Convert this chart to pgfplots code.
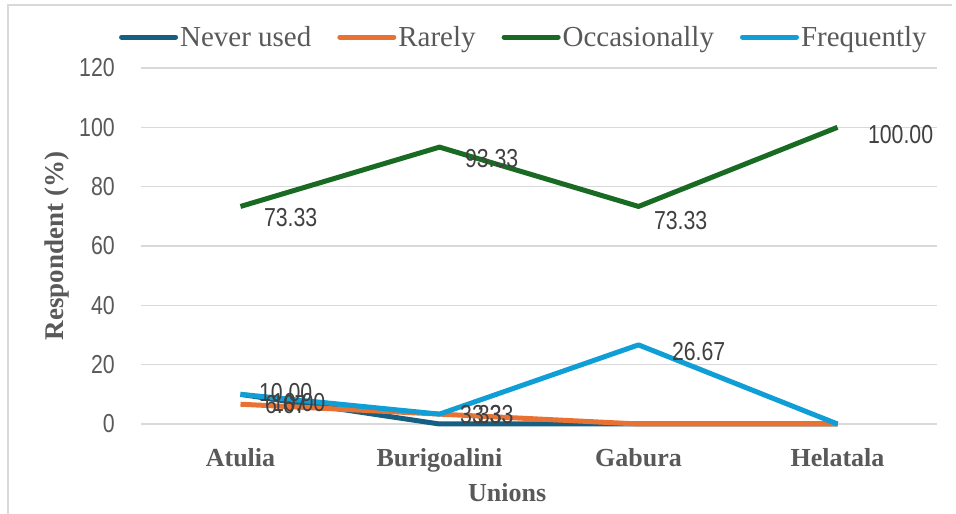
\documentclass[border=0pt]{standalone}
\usepackage{fontspec}
\setmainfont{Liberation Serif}
\newfontfamily\narrowsans[FakeStretch=0.82]{Liberation Sans}
\usepackage{pgfplots}
\pgfplotsset{compat=1.18}
\usepackage{pgfplotstable}

\definecolor{neverc}{HTML}{156082}
\definecolor{rarelyc}{HTML}{E97132}
\definecolor{occasc}{HTML}{196B24}
\definecolor{freqc}{HTML}{0F9ED5}
\definecolor{gridgray}{HTML}{D9D9D9}
\definecolor{textgray}{HTML}{595959}
\definecolor{labelgray}{HTML}{404040}

% x = union index, y = share of respondents (%), dx/dy = label offset (pt)
\pgfplotstableread{
x y dx dy
0 10 29 -8
1 0 0 0
2 0 0 0
3 0 0 0
}\neverused
\pgfplotstableread{
x y dx dy
0 6.67 22 0
1 3.33 30 0
2 0 0 0
3 0 0 0
}\rarely
\pgfplotstableread{
x y dx dy
0 73.33 21 -11
1 93.33 23 -11
2 73.33 13 -14
3 100 28 -7
}\occasionally
\pgfplotstableread{
x y dx dy
0 10 16 2
1 3.33 18 0
2 26.67 31 -7
3 0 0 0
}\frequently

\begin{document}
\begin{tikzpicture}
\useasboundingbox (0,0) rectangle (956pt,514pt);
\draw[gridgray, line width=1.5pt] (8pt,0pt) -- (8pt,509pt) -- (952pt,509pt);
\begin{axis}[
  at={(141pt,90pt)}, anchor=south west,
  scale only axis, width=796pt, height=356pt,
  xmin=-0.5, xmax=3.5, ymin=0, ymax=120,
  xtick={0,1,2,3},
  xticklabels={Atulia,Burigoalini,Gabura,Helatala},
  ytick={0,20,40,60,80,100,120},
  axis line style={draw=none},
  major tick length=0pt,
  ymajorgrids,
  grid style={color=gridgray, line width=1.5pt},
  clip=false,
  /pgf/number format/assume math mode=true,
  yticklabel style={font=\narrowsans\fontsize{26}{28}\selectfont, text=textgray,
    anchor=east, inner sep=0pt, xshift=-26pt},
  xticklabel style={font=\bfseries\fontsize{26}{28}\selectfont, text=textgray,
    anchor=base, inner sep=0pt, yshift=-42pt},
  xlabel={Unions},
  ylabel={Respondent (\%)},
  every axis x label/.style={at={(axis description cs:0.46,0)}, anchor=center,
    yshift=-69pt, font=\bfseries\fontsize{26}{28}\selectfont, text=textgray},
  every axis y label/.style={at={(axis description cs:-0.1055,0.5)}, anchor=center,
    rotate=90, font=\bfseries\fontsize{27}{29}\selectfont, text=textgray},
  legend columns=4,
  legend style={at={(0.481,1.087)}, anchor=center, draw=none, fill=none,
    font=\fontsize{29}{31}\selectfont, text=textgray, inner sep=0pt,
    nodes={inner xsep=2pt, inner ysep=0pt},
    /tikz/every even column/.append style={column sep=24pt}},
  legend cell align=left,
  legend image code/.code={\draw[#1, line cap=round] (0pt,0pt) -- (54pt,0pt);},
  every axis plot/.append style={line width=5pt, line join=round, no markers},
  nodes near coords={\pgfmathfloatifflags{\pgfplotspointmeta}{0}{}{\pgfmathprintnumber[fixed,zerofill,precision=2]{\pgfplotspointmeta}}},
  visualization depends on={\thisrow{dx}\as\dx},
  visualization depends on={\thisrow{dy}\as\dy},
  nodes near coords style={font=\narrowsans\fontsize{26}{28}\selectfont, text=labelgray,
    anchor=west, inner sep=0pt, xshift=\dx pt, yshift=\dy pt},
]
\addplot[neverc] table[x=x, y=y] {\neverused};
\addlegendentry{Never used}
\addplot[rarelyc] table[x=x, y=y] {\rarely};
\addlegendentry{Rarely}
\addplot[occasc] table[x=x, y=y] {\occasionally};
\addlegendentry{Occasionally}
\addplot[freqc] table[x=x, y=y] {\frequently};
\addlegendentry{Frequently}
\end{axis}
\end{tikzpicture}
\end{document}
